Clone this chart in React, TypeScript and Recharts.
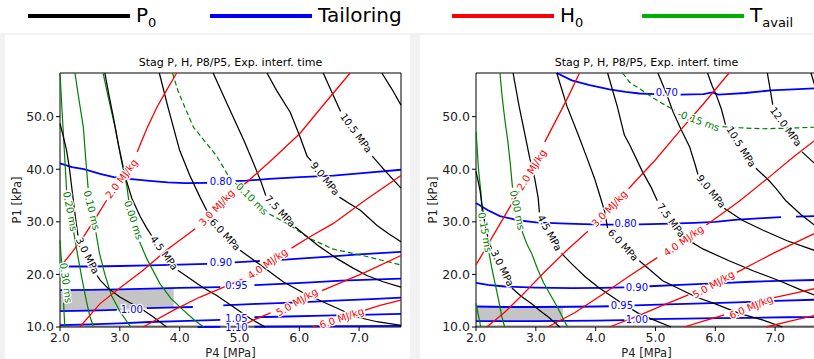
import React from "react";
import { ComposedChart, Line, Area, Scatter, XAxis, YAxis, ReferenceArea } from "recharts";

type Pt = [number, number];
type Seg = Pt[];
type Lbl = { x: number; y: number; t: string; a: number };

const FONT = "'DejaVu Sans', Verdana, sans-serif";
const X_TICKS = [2, 3, 4, 5, 6, 7];
const Y_TICKS = [10, 20, 30, 40, 50];
const X_DOMAIN: [number, number] = [2, 7.7];
const Y_DOMAIN: [number, number] = [10, 58.3];

// ---------- left panel ----------
// P0 contours (MPa)
const lP0_30: Seg[] = [
  [[2.0, 48.7], [2.06, 46.0], [2.11, 43.6], [2.16, 40.0], [2.2, 36.2], [2.25, 31.5], [2.3, 27.4]],
  [[2.62, 19.8], [2.67, 18.9], [2.8, 17.4], [3.0, 15.7], [3.17, 14.6], [3.34, 13.6], [3.55, 12.0], [3.78, 10.0]],
];
const lP0_45: Seg[] = [
  [[2.75, 58.3], [2.82, 54.0], [2.89, 50.0], [2.98, 44.5], [3.09, 38.6], [3.2, 34.5], [3.34, 31.0], [3.45, 28.8], [3.53, 27.4]],
  [[3.97, 20.8], [4.2, 19.0], [4.4, 17.4], [4.62, 16.0], [4.9, 13.8], [5.18, 11.6], [5.43, 10.0]],
];
const lP0_60: Seg[] = [
  [[3.66, 58.3], [3.8, 52.0], [4.0, 43.6], [4.17, 38.8], [4.34, 34.7], [4.45, 32.2], [4.52, 30.6]],
  [[5.01, 24.6], [5.3, 22.2], [5.73, 18.6], [6.05, 16.6], [6.4, 14.75], [6.96, 11.9], [7.3, 11.0], [7.7, 10.3]],
];
const lP0_75: Seg[] = [
  [[4.56, 58.3], [4.73, 54.0], [4.9, 49.8], [5.08, 45.3], [5.24, 41.0], [5.36, 37.6], [5.44, 35.0]],
  [[5.93, 29.0], [6.3, 25.6], [6.63, 23.0], [6.9, 21.2], [7.13, 19.8], [7.4, 18.6], [7.7, 17.6]],
];
const lP0_90: Seg[] = [
  [[5.46, 58.3], [5.62, 55.0], [5.85, 50.8], [6.0, 46.5], [6.13, 42.5], [6.2, 41.6]],
  [[6.67, 34.7], [6.85, 33.4], [7.02, 32.2], [7.3, 29.3], [7.5, 27.7], [7.7, 26.2]],
];
const lP0_105: Seg[] = [
  [[6.4, 58.3], [6.55, 54.5], [6.69, 51.0]],
  [[7.22, 42.5], [7.45, 39.5], [7.7, 36.4]],
];
const lP0_120: Seg[] = [[[7.38, 58.3], [7.55, 55.2], [7.7, 52.2]]];

// Tailoring contours
const lT_080: Seg[] = [
  [[2.0, 41.1], [2.2, 40.4], [2.4, 40.0], [2.67, 39.1], [2.9, 38.5], [3.11, 38.2], [3.5, 37.8], [3.8, 37.5], [4.1, 37.35], [4.46, 37.4]],
  [[4.93, 37.75], [5.12, 37.85], [5.5, 38.15], [6.01, 38.5], [6.57, 38.8], [7.1, 39.3], [7.7, 39.9]],
];
const lT_090: Seg[] = [
  [[2.0, 21.5], [2.5, 21.5], [3.0, 21.6], [3.5, 21.7], [4.0, 21.85], [4.46, 22.0]],
  [[4.92, 22.3], [5.34, 22.55]],
  [[5.7, 22.75], [6.0, 23.0], [6.5, 23.4], [7.0, 23.8], [7.7, 24.3]],
];
const lT_095: Seg[] = [
  [[2.0, 17.0], [2.5, 17.05], [3.0, 17.15], [3.5, 17.3], [4.0, 17.45], [4.68, 17.6]],
  [[5.25, 17.95], [5.7, 18.2], [6.2, 18.5], [6.7, 18.8], [7.2, 19.0], [7.7, 19.2]],
];
const lT_100: Seg[] = [
  [[2.0, 13.0], [2.5, 13.1], [2.95, 13.25]],
  [[3.45, 13.6], [3.8, 13.7], [4.22, 13.8]],
  [[4.73, 14.1], [5.3, 14.4], [6.0, 14.7], [6.6, 15.0], [7.2, 15.3], [7.7, 15.6]],
];
const lT_105: Seg[] = [
  [[2.0, 10.35], [2.5, 10.5], [3.0, 10.7], [3.5, 10.95], [4.0, 11.1], [4.68, 11.35]],
  [[5.25, 11.85], [5.8, 12.0], [6.4, 12.15], [7.0, 12.3], [7.7, 12.5]],
];
const lT_110: Seg[] = [
  [[4.3, 10.0], [4.68, 10.03]],
  [[5.25, 10.05], [6.0, 10.1], [7.0, 10.15], [7.7, 10.2]],
];

// H0 contours (MJ/kg)
const lH_20: Seg[] = [
  [[3.95, 58.3], [3.78, 55.0], [3.62, 51.8], [3.45, 47.7], [3.29, 43.3]],
  [[2.78, 34.1], [2.6, 30.8], [2.39, 27.1], [2.2, 24.2], [2.0, 21.4]],
];
const lH_30: Seg[] = [
  [[6.85, 58.3], [6.43, 52.6], [6.01, 46.8], [5.56, 42.0], [5.12, 37.5], [4.98, 36.3]],
  [[4.26, 28.7], [3.8, 24.8], [3.39, 20.8], [3.0, 17.4], [2.67, 14.45], [2.33, 10.0]],
];
const lH_40: Seg[] = [
  [[7.7, 38.8], [7.1, 34.1], [6.57, 29.7], [6.2, 27.3], [5.87, 25.0]],
  [[5.05, 19.1], [4.7, 17.4], [4.34, 15.7], [3.9, 13.2], [3.39, 10.0]],
];
const lH_50: Seg[] = [
  [[7.7, 23.6], [7.1, 20.4], [6.38, 16.9]],
  [[5.52, 12.7], [5.25, 11.4], [5.0, 10.0]],
];
const lH_60: Seg[] = [
  [[7.7, 15.1], [7.35, 14.1], [7.1, 13.2]],
  [[6.3, 10.3], [6.22, 10.0]],
];

// T_avail contours (ms)
const lA_030: Seg[] = [
  [[2.0, 26.5], [2.015, 24.0], [2.03, 22.0]],
  [[2.06, 14.6], [2.07, 12.3], [2.08, 10.0]],
];
const lA_020: Seg[] = [
  [[2.0, 58.3], [2.03, 52.0], [2.06, 46.0], [2.09, 40.0], [2.11, 36.0]],
  [[2.23, 28.0], [2.29, 24.0], [2.37, 19.0], [2.44, 15.0], [2.5, 12.0], [2.56, 10.0]],
];
const lA_010: Seg[] = [
  [[2.25, 58.3], [2.32, 53.0], [2.39, 48.0], [2.43, 42.0], [2.47, 36.4]],
  [[2.6, 28.0], [2.66, 24.0], [2.75, 20.0], [2.86, 16.0], [3.0, 13.0], [3.18, 10.0]],
];
const lA_000: Seg[] = [
  [[2.72, 58.3], [2.82, 53.0], [2.92, 48.0], [3.02, 42.0], [3.12, 36.6], [3.15, 34.0]],
  [[3.33, 26.2], [3.45, 23.0], [3.67, 18.25], [3.85, 15.5], [4.06, 13.2], [4.25, 11.3], [4.4, 10.0]],
];
const lA_m010: Seg[] = [
  [[3.88, 58.3], [3.97, 55.0], [4.06, 52.5], [4.23, 48.0], [4.45, 44.9], [4.6, 42.8], [4.73, 40.4], [4.87, 37.6]],
  [[5.5, 31.5], [5.85, 29.3], [6.18, 26.8], [6.57, 24.8], [7.13, 23.4], [7.7, 21.8]],
];

// feasible (shaded) band: x, lower, upper
const lShade: [number, number, number][] = [
  [2.0, 13.0, 17.0], [2.5, 13.1, 17.05], [3.0, 13.25, 17.15], [3.5, 13.6, 17.3], [3.9, 13.7, 17.4],
];

const lLblP0: Lbl[] = [
  { x: 2.46, y: 23.6, t: "3.0 MPa", a: 63 },
  { x: 3.74, y: 24.1, t: "4.5 MPa", a: 54 },
  { x: 4.76, y: 27.6, t: "6.0 MPa", a: 47 },
  { x: 5.68, y: 32.0, t: "7.5 MPa", a: 47 },
  { x: 6.43, y: 38.2, t: "9.0 MPa", a: 51 },
  { x: 6.95, y: 46.9, t: "10.5 MPa", a: 54 },
];
const lLblT: Lbl[] = [
  { x: 4.69, y: 37.7, t: "0.80", a: 0 },
  { x: 4.69, y: 22.2, t: "0.90", a: 0 },
  { x: 4.95, y: 17.8, t: "0.95", a: 0 },
  { x: 3.2, y: 13.4, t: "1.00", a: 0 },
  { x: 4.95, y: 11.7, t: "1.05", a: 0 },
  { x: 4.95, y: 10.0, t: "1.10", a: 0 },
];
const lLblH: Lbl[] = [
  { x: 3.03, y: 38.2, t: "2.0 MJ/kg", a: -53 },
  { x: 4.62, y: 32.7, t: "3.0 MJ/kg", a: -46 },
  { x: 5.47, y: 22.05, t: "4.0 MJ/kg", a: -35 },
  { x: 5.96, y: 14.75, t: "5.0 MJ/kg", a: -30 },
  { x: 6.71, y: 11.7, t: "6.0 MJ/kg", a: -19 },
];
const lLblA: Lbl[] = [
  { x: 2.17, y: 32.0, t: "0.20 ms", a: 79 },
  { x: 2.53, y: 32.2, t: "0.10 ms", a: 76 },
  { x: 3.23, y: 30.3, t: "0.00 ms", a: 72 },
  { x: 2.1, y: 18.4, t: "0.30 ms", a: 82 },
  { x: 5.19, y: 34.6, t: "-0.10 ms", a: 45 },
];

// ---------- right panel ----------
const rP0_30: Seg[] = [
  [[2.0, 39.6], [2.04, 37.5], [2.07, 35.8], [2.11, 32.5], [2.15, 29.5], [2.2, 27.0], [2.26, 24.8]],
  [[2.6, 17.4], [2.75, 15.9], [2.93, 14.4], [3.07, 13.1], [3.21, 11.9], [3.4, 10.0]],
];
const rP0_45: Seg[] = [
  [[2.62, 58.3], [2.72, 52.0], [2.82, 46.5], [2.9, 42.0], [2.98, 38.3], [3.04, 34.5], [3.06, 31.8]],
  [[3.43, 24.0], [3.6, 22.0], [3.82, 19.6], [4.05, 17.5], [4.4, 14.8], [4.73, 12.5], [5.0, 11.2], [5.26, 10.0]],
];
const rP0_60: Seg[] = [
  [[3.35, 58.3], [3.52, 52.0], [3.71, 46.5], [3.85, 42.3], [3.98, 38.3], [4.07, 35.0], [4.15, 32.0], [4.2, 28.8]],
  [[4.73, 22.6], [5.12, 18.8], [5.68, 15.7], [6.0, 14.4], [6.4, 12.6], [6.8, 11.3], [7.12, 10.0]],
];
const rP0_75: Seg[] = [
  [[4.2, 58.3], [4.36, 52.0], [4.48, 46.5], [4.57, 44.6], [4.78, 39.6], [4.93, 36.5], [5.03, 34.0]],
  [[5.49, 26.9], [5.8, 24.8], [6.23, 22.6], [6.65, 20.6], [7.07, 18.8], [7.4, 17.2], [7.7, 15.9]],
];
const rP0_90: Seg[] = [
  [[5.04, 58.3], [5.18, 54.5], [5.29, 51.0], [5.43, 47.5], [5.57, 44.3], [5.66, 41.0], [5.71, 39.0]],
  [[6.15, 32.6], [6.45, 30.3], [6.8, 28.4], [7.2, 26.4], [7.7, 24.4]],
];
const rP0_105: Seg[] = [
  [[5.87, 58.3], [5.95, 55.8], [6.02, 54.0], [6.1, 51.5], [6.17, 48.5]],
  [[6.68, 40.2], [6.9, 37.8], [7.01, 36.4], [7.18, 34.0], [7.43, 31.4], [7.7, 29.0]],
];
const rP0_120: Seg[] = [
  [[6.87, 58.3], [6.92, 55.0], [6.96, 52.3]],
  [[7.45, 43.3], [7.63, 41.4], [7.7, 40.8]],
];
const rP0_135: Seg[] = [[[7.6, 58.3], [7.7, 54.5]]];

const rT_070: Seg[] = [
  [[3.35, 58.3], [3.6, 56.9], [3.9, 56.0], [4.23, 55.2], [4.5, 54.7], [4.73, 54.4], [4.98, 54.3]],
  [[5.42, 54.2], [5.8, 54.3], [5.95, 54.6], [6.05, 54.2], [6.2, 54.3], [6.5, 54.5], [6.93, 55.0], [7.3, 55.2], [7.7, 55.4]],
];
const rT_080: Seg[] = [
  [[2.0, 33.6], [2.2, 32.2], [2.4, 31.1], [2.7, 30.3], [3.0, 29.9], [3.4, 29.7], [3.8, 29.55], [4.12, 29.45], [4.3, 29.45]],
  [[4.72, 29.5], [5.1, 29.6], [5.65, 29.8], [6.0, 30.0], [6.37, 30.4], [6.8, 30.7], [7.1, 30.9]],
  [[7.35, 31.0], [7.7, 31.1]],
];
const rT_090: Seg[] = [
  [[2.0, 18.4], [2.2, 18.0], [2.48, 17.7], [3.0, 17.5], [3.6, 17.4], [4.1, 17.45], [4.48, 17.55]],
  [[4.9, 17.75], [5.5, 18.05], [6.0, 18.3], [6.6, 18.6], [7.2, 18.8], [7.7, 18.95]],
];
const rT_095: Seg[] = [
  [[2.0, 13.9], [2.5, 13.8], [3.0, 13.8], [3.6, 13.85], [4.05, 13.9], [4.22, 13.95]],
  [[4.65, 14.1], [5.2, 14.3], [5.8, 14.5], [6.37, 14.7], [7.0, 14.95], [7.7, 15.2]],
];
const rT_100: Seg[] = [
  [[2.0, 11.1], [2.5, 11.1], [3.0, 11.1], [3.5, 11.15], [4.0, 11.2], [4.48, 11.3]],
  [[4.9, 11.5], [5.5, 11.6], [6.0, 11.7], [6.6, 11.75], [7.2, 11.85], [7.7, 11.9]],
];

const rH_20: Seg[] = [
  [[3.73, 58.3], [3.55, 54.0], [3.37, 50.0], [3.15, 45.2]],
  [[2.72, 35.8], [2.55, 32.5], [2.35, 28.6], [2.18, 25.3], [2.0, 21.8]],
];
const rH_30: Seg[] = [
  [[6.23, 58.3], [5.8, 52.4], [5.4, 47.2], [5.0, 41.8], [4.55, 36.3]],
  [[3.87, 28.2], [3.5, 24.4], [3.15, 20.5], [2.8, 16.4], [2.48, 12.8], [2.18, 10.0]],
];
const rH_40: Seg[] = [
  [[7.7, 45.8], [7.3, 42.3], [6.9, 38.5], [6.4, 33.9], [5.85, 29.4]],
  [[5.03, 23.2], [4.57, 19.75], [4.1, 16.1], [3.65, 12.7], [3.2, 10.0]],
];
const rH_50: Seg[] = [
  [[7.7, 28.0], [7.0, 24.2], [6.36, 20.4]],
  [[5.55, 16.1], [5.1, 14.0], [4.73, 12.2], [4.23, 10.0]],
];
const rH_60: Seg[] = [
  [[7.7, 17.4], [7.35, 16.5], [6.98, 15.6]],
  [[6.15, 12.3], [5.8, 11.1], [5.48, 10.0]],
];
const rH_70: Seg[] = [[[6.85, 10.0], [7.25, 11.1], [7.7, 12.3]]];

const rA_030: Seg[] = [[[2.0, 14.5], [2.04, 12.2], [2.08, 10.0]]];
const rA_015: Seg[] = [
  [[2.0, 47.1], [2.02, 44.0], [2.04, 40.2], [2.08, 35.8], [2.1, 32.0]],
  [[2.21, 24.5], [2.26, 21.5], [2.32, 18.2], [2.38, 15.0], [2.43, 12.0], [2.48, 10.0]],
];
const rA_000: Seg[] = [
  [[2.4, 58.3], [2.44, 53.5], [2.48, 49.6], [2.53, 45.5], [2.57, 41.4], [2.61, 36.5]],
  [[2.77, 28.2], [2.85, 25.8], [2.93, 24.0], [3.03, 21.0], [3.13, 18.4], [3.25, 16.0], [3.36, 13.8], [3.44, 12.0], [3.53, 10.0]],
];
const rA_m015: Seg[] = [
  [[4.45, 58.3], [4.57, 56.5], [4.75, 55.2], [4.9, 54.0], [5.1, 52.6], [5.32, 51.2]],
  [[6.12, 48.1], [6.37, 47.9], [6.79, 47.7], [7.2, 47.8], [7.7, 48.0]],
];

const rShade: [number, number, number][] = [
  [2.0, 11.1, 13.9], [2.5, 11.1, 13.8], [3.0, 11.1, 13.8], [3.45, 11.15, 13.82],
];

const rLblP0: Lbl[] = [
  { x: 2.44, y: 21.2, t: "3.0 MPa", a: 64 },
  { x: 3.23, y: 27.9, t: "4.5 MPa", a: 61 },
  { x: 4.46, y: 25.6, t: "6.0 MPa", a: 47 },
  { x: 5.26, y: 30.3, t: "7.5 MPa", a: 53 },
  { x: 5.93, y: 35.8, t: "9.0 MPa", a: 51 },
  { x: 6.43, y: 44.3, t: "10.5 MPa", a: 58 },
  { x: 7.18, y: 48.1, t: "12.0 MPa", a: 54 },
];
const rLblT: Lbl[] = [
  { x: 5.19, y: 54.5, t: "0.70", a: 0 },
  { x: 4.5, y: 29.6, t: "0.80", a: 0 },
  { x: 4.69, y: 17.6, t: "0.90", a: 0 },
  { x: 4.44, y: 14.05, t: "0.95", a: 0 },
  { x: 4.69, y: 11.35, t: "1.00", a: 0 },
];
const rLblH: Lbl[] = [
  { x: 2.93, y: 39.9, t: "2.0 MJ/kg", a: -58 },
  { x: 4.23, y: 32.5, t: "3.0 MJ/kg", a: -46 },
  { x: 5.47, y: 26.4, t: "4.0 MJ/kg", a: -35 },
  { x: 5.97, y: 18.1, t: "5.0 MJ/kg", a: -29 },
  { x: 6.6, y: 13.8, t: "6.0 MJ/kg", a: -23 },
];
const rLblA: Lbl[] = [
  { x: 2.15, y: 28.0, t: "0.15 ms", a: 80 },
  { x: 2.69, y: 32.2, t: "0.00 ms", a: 78 },
  { x: 5.72, y: 49.2, t: "-0.15 ms", a: 20 },
];

const BLACK = "#000000";
const BLUE = "#0000ff";
const RED = "#ff0000";
const GREEN = "#008000";

const LEGEND = [
  { name: "P", sub: "0", color: "#000000" },
  { name: "Tailoring", sub: "", color: "#0000ff" },
  { name: "H", sub: "0", color: "#ff0000" },
  { name: "T", sub: "avail", color: "#00b000" },
];
const LEGEND_X = [28, 210, 452, 642];

type Group = { segs: Seg[][]; color: string; width: number; dash?: string };

const f1 = (v: number) => v.toFixed(1);

const makeLabel = (color: string) => (props: any) => {
  const { cx, cy, payload } = props;
  if (cx == null || cy == null) return <g />;
  return (
    <text
      x={cx}
      y={cy}
      transform={`rotate(${payload.a} ${cx} ${cy})`}
      textAnchor="middle"
      dominantBaseline="central"
      fontSize={10}
      fontFamily={FONT}
      fill={color}
      stroke="#ffffff"
      strokeWidth={2.5}
      paintOrder="stroke"
    >
      {payload.t}
    </text>
  );
};

function Panel({ left, groups, labels, shade }: {
  left: number;
  groups: Group[];
  labels: { data: Lbl[]; color: string }[];
  shade: [number, number, number][];
}) {
  const lines: React.ReactNode[] = [];
  groups.forEach((g, gi) =>
    g.segs.forEach((contour, ci) =>
      contour.forEach((seg, si) =>
        lines.push(
          <Line
            key={`l${gi}-${ci}-${si}`}
            data={seg.map(([x, y]) => ({ x, y }))}
            dataKey="y"
            type="linear"
            stroke={g.color}
            strokeWidth={g.width}
            strokeDasharray={g.dash}
            dot={false}
            activeDot={false}
            isAnimationActive={false}
          />
        )
      )
    )
  );
  return (
    <div style={{ position: "absolute", left, top: 35, width: 410, height: 324 }}>
      <ComposedChart width={410} height={324} margin={{ top: 38, right: 9, bottom: 0, left: 15 }}>
        <XAxis
          type="number"
          dataKey="x"
          domain={X_DOMAIN}
          ticks={X_TICKS}
          interval={0}
          tickFormatter={f1}
          height={32}
          axisLine={false}
          tickLine={{ stroke: "#000" }}
          tickSize={4}
          tick={{ fontSize: 12.5, fill: "#222", fontFamily: FONT }}
        />
        <YAxis
          type="number"
          dataKey="y"
          domain={Y_DOMAIN}
          ticks={Y_TICKS}
          interval={0}
          tickFormatter={f1}
          width={45}
          axisLine={false}
          tickLine={{ stroke: "#000" }}
          tickSize={4}
          tick={{ fontSize: 12.5, fill: "#222", fontFamily: FONT }}
        />
        <Area
          data={shade.map(([x, lo, hi]) => ({ x, r: [lo, hi] }))}
          dataKey="r"
          type="linear"
          fill="#c4c4c4"
          fillOpacity={1}
          stroke="none"
          isAnimationActive={false}
        />
        <Area
          data={[{ x: 2, r: [10, 10.35] }, { x: 7.7, r: [10, 10.35] }]}
          dataKey="r"
          type="linear"
          fill="#b0b0b0"
          fillOpacity={1}
          stroke="none"
          isAnimationActive={false}
        />
        {lines}
        {labels.map((l, i) => (
          <Scatter key={`s${i}`} data={l.data} shape={makeLabel(l.color)} isAnimationActive={false} />
        ))}
        <ReferenceArea x1={2} x2={7.7} y1={10} y2={58.3} fill="none" stroke="#000" strokeWidth={1} />
      </ComposedChart>
      <div style={{ position: "absolute", left: 60, width: 341, top: 21, textAlign: "center", fontSize: 11, lineHeight: "14px", color: "#000" }}>
        Stag P, H, P8/P5, Exp. interf. time
      </div>
      <div style={{ position: "absolute", left: 60, width: 341, top: 311, textAlign: "center", fontSize: 11.5, lineHeight: "14px", color: "#222" }}>
        P4 [MPa]
      </div>
      <div style={{ position: "absolute", left: 16.5, top: 164.7, transform: "translate(-50%, -50%) rotate(-90deg)", whiteSpace: "nowrap", fontSize: 11.5, lineHeight: "14px", color: "#222" }}>
        P1 [kPa]
      </div>
    </div>
  );
}

export default function App() {
  const leftGroups: Group[] = [
    { segs: [lT_080, lT_090, lT_095, lT_100, lT_105, lT_110], color: BLUE, width: 1.8 },
    { segs: [lA_030, lA_020, lA_010, lA_000], color: GREEN, width: 1.2 },
    { segs: [lA_m010], color: GREEN, width: 1.2, dash: "5 3" },
    { segs: [lP0_30, lP0_45, lP0_60, lP0_75, lP0_90, lP0_105, lP0_120], color: BLACK, width: 1.25 },
    { segs: [lH_20, lH_30, lH_40, lH_50, lH_60], color: RED, width: 1.3 },
  ];
  const rightGroups: Group[] = [
    { segs: [rT_070, rT_080, rT_090, rT_095, rT_100], color: BLUE, width: 1.8 },
    { segs: [rA_030, rA_015, rA_000], color: GREEN, width: 1.2 },
    { segs: [rA_m015], color: GREEN, width: 1.2, dash: "5 3" },
    { segs: [rP0_30, rP0_45, rP0_60, rP0_75, rP0_90, rP0_105, rP0_120, rP0_135], color: BLACK, width: 1.25 },
    { segs: [rH_20, rH_30, rH_40, rH_50, rH_60, rH_70], color: RED, width: 1.3 },
  ];
  return (
    <div style={{ position: "fixed", left: 0, top: 0, width: 814, height: 359, overflow: "hidden", background: "#f2f2f2", fontFamily: FONT }}>
      <div style={{ position: "absolute", left: 0, top: 0, width: 814, height: 33, background: "#fff" }}>
        {LEGEND.map((it, i) => (
          <React.Fragment key={it.name}>
            <div style={{ position: "absolute", left: LEGEND_X[i], top: 14, width: 102, height: 3.5, background: it.color }} />
            <div style={{ position: "absolute", left: LEGEND_X[i] + 108, top: 2, fontSize: 20, lineHeight: "26px", color: "#000", whiteSpace: "nowrap" }}>
              {it.name}
              {it.sub && <span style={{ fontSize: 13, position: "relative", top: 5 }}>{it.sub}</span>}
            </div>
          </React.Fragment>
        ))}
      </div>
      <div style={{ position: "absolute", left: 5, top: 35, width: 405, height: 324, background: "#fff" }} />
      <div style={{ position: "absolute", left: 420, top: 35, width: 400, height: 324, background: "#fff" }} />
      <Panel
        left={0}
        groups={leftGroups}
        labels={[
          { data: lLblT, color: BLUE },
          { data: lLblA, color: GREEN },
          { data: lLblP0, color: BLACK },
          { data: lLblH, color: RED },
        ]}
        shade={lShade}
      />
      <Panel
        left={416}
        groups={rightGroups}
        labels={[
          { data: rLblT, color: BLUE },
          { data: rLblA, color: GREEN },
          { data: rLblP0, color: BLACK },
          { data: rLblH, color: RED },
        ]}
        shade={rShade}
      />
    </div>
  );
}
